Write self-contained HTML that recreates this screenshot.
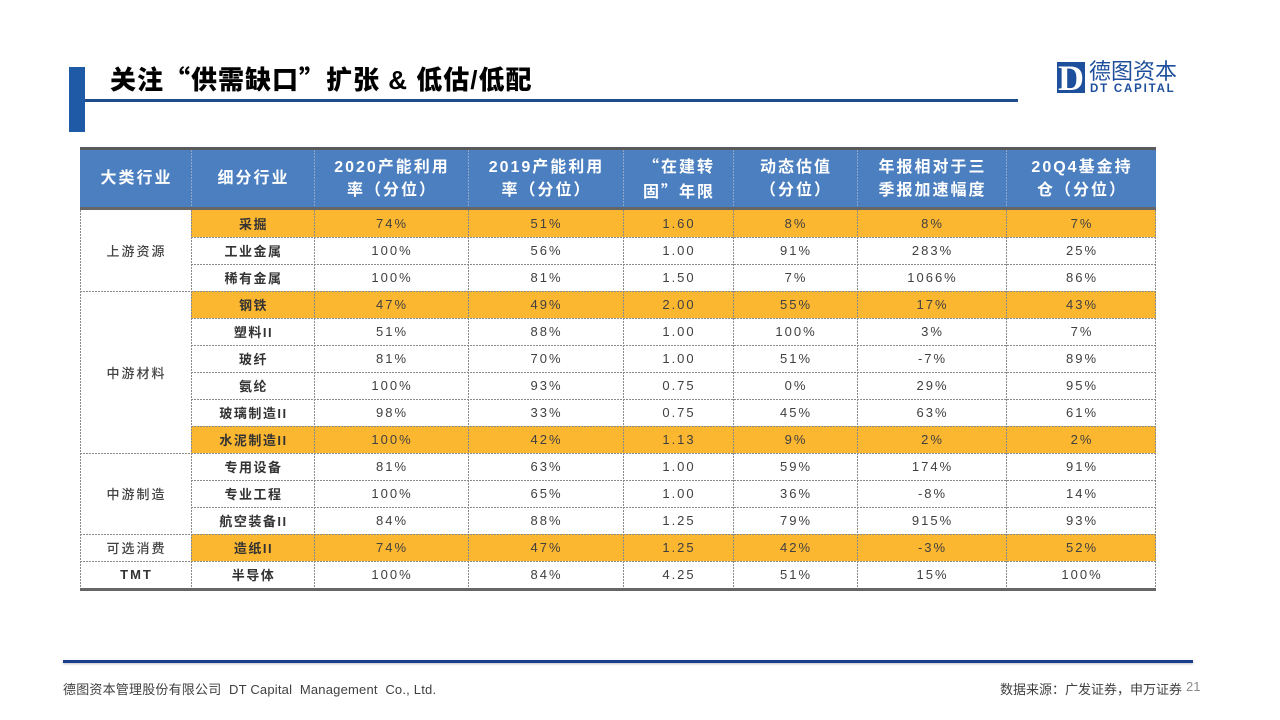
<!DOCTYPE html>
<html><head><meta charset="utf-8">
<style>
*{margin:0;padding:0;box-sizing:border-box;}
body{width:1280px;height:720px;background:#fff;position:relative;overflow:hidden;font-family:"Liberation Sans","Noto Sans CJK SC",sans-serif;}
.abs{position:absolute;}
.q{font-family:"Noto Sans CJK SC",sans-serif;}
.hl{position:absolute;height:1px;background:repeating-linear-gradient(90deg,#8a8a8a 0 2px,transparent 2px 3px);}
.vl{position:absolute;width:1px;background:repeating-linear-gradient(180deg,#8a8a8a 0 2px,transparent 2px 3px);}
.vlh{position:absolute;width:1px;background:repeating-linear-gradient(180deg,#8fa6c8 0 2px,transparent 2px 3px);}
.row{position:absolute;left:191px;height:27px;display:flex;}
.row div{height:27px;display:flex;align-items:center;justify-content:center;font-size:13px;letter-spacing:2px;color:#404040;padding-left:2px;}
.row div:first-child{font-weight:bold;color:#333;letter-spacing:1.5px;}
.w1{width:123px}.w2{width:154px}.w3{width:155px}.w4{width:110px}.w5{width:124px}.w6{width:149px}.w7{width:150px}
.hdr{position:absolute;left:80px;top:150px;height:57px;display:flex;}
.hdr div{height:57px;display:flex;align-items:center;justify-content:center;text-align:center;color:#fff;font-weight:bold;font-size:16px;letter-spacing:2px;line-height:23px;padding-left:2px;}
.cat{position:absolute;left:80px;width:111px;display:flex;align-items:center;justify-content:center;font-size:13px;letter-spacing:2px;color:#444;font-weight:500;padding-left:2px;}
</style></head><body>

<!-- title -->
<div class="abs" style="left:69px;top:67px;width:16px;height:65px;background:#1f5aa6;"></div>
<div class="abs" style="left:85px;top:99px;width:933px;height:3px;background:#1f4e8f;"></div>
<div class="abs" style="left:110px;top:65px;font-size:26px;line-height:28px;font-weight:900;color:#000;letter-spacing:1px;white-space:nowrap;">关注<span class="q">“</span>供需缺口<span class="q">”</span>扩张 &amp; 低估/低配</div>

<!-- logo -->
<div class="abs" style="left:1057px;top:62px;width:28px;height:31px;background:#1d4f9c;color:#fff;font-family:'Liberation Serif',serif;font-weight:bold;font-size:36px;line-height:33px;text-align:center;">D</div>
<div class="abs" style="left:1089px;top:59px;font-size:22px;line-height:26px;color:#1d4f9c;white-space:nowrap;">德图资本</div>
<div class="abs" style="left:1090px;top:83px;font-size:11.5px;line-height:12px;font-weight:bold;color:#1d4f9c;letter-spacing:1.8px;white-space:nowrap;">DT CAPITAL</div>

<!-- table backgrounds -->
<div class="abs" style="left:80px;top:147px;width:1076px;height:3px;background:#5a5a5a;"></div>
<div class="abs" style="left:80px;top:150px;width:1076px;height:57px;background:#4b7fc0;"></div>
<div class="abs" style="left:80px;top:207px;width:1076px;height:3px;background:#666;"></div>
<div class="abs" style="left:191px;top:210px;width:965px;height:27px;background:#fcb731;"></div>
<div class="abs" style="left:191px;top:291px;width:965px;height:27px;background:#fcb731;"></div>
<div class="abs" style="left:191px;top:426px;width:965px;height:27px;background:#fcb731;"></div>
<div class="abs" style="left:191px;top:534px;width:965px;height:27px;background:#fcb731;"></div>
<div class="abs" style="left:80px;top:588px;width:1076px;height:3px;background:#666;"></div>

<!-- horizontal dashed lines -->
<div class="hl" style="left:191px;top:237px;width:965px;"></div>
<div class="hl" style="left:191px;top:264px;width:965px;"></div>
<div class="hl" style="left:80px;top:291px;width:1076px;"></div>
<div class="hl" style="left:191px;top:318px;width:965px;"></div>
<div class="hl" style="left:191px;top:345px;width:965px;"></div>
<div class="hl" style="left:191px;top:372px;width:965px;"></div>
<div class="hl" style="left:191px;top:399px;width:965px;"></div>
<div class="hl" style="left:191px;top:426px;width:965px;"></div>
<div class="hl" style="left:80px;top:453px;width:1076px;"></div>
<div class="hl" style="left:191px;top:480px;width:965px;"></div>
<div class="hl" style="left:191px;top:507px;width:965px;"></div>
<div class="hl" style="left:80px;top:534px;width:1076px;"></div>
<div class="hl" style="left:80px;top:561px;width:1076px;"></div>

<!-- vertical dashed lines: body -->
<div class="vl" style="left:80px;top:210px;height:378px;"></div>
<div class="vl" style="left:191px;top:210px;height:378px;"></div>
<div class="vl" style="left:314px;top:210px;height:378px;"></div>
<div class="vl" style="left:468px;top:210px;height:378px;"></div>
<div class="vl" style="left:623px;top:210px;height:378px;"></div>
<div class="vl" style="left:733px;top:210px;height:378px;"></div>
<div class="vl" style="left:857px;top:210px;height:378px;"></div>
<div class="vl" style="left:1006px;top:210px;height:378px;"></div>
<div class="vl" style="left:1155px;top:210px;height:378px;"></div>
<!-- vertical dashed lines: header -->
<div class="vlh" style="left:191px;top:150px;height:57px;"></div>
<div class="vlh" style="left:314px;top:150px;height:57px;"></div>
<div class="vlh" style="left:468px;top:150px;height:57px;"></div>
<div class="vlh" style="left:623px;top:150px;height:57px;"></div>
<div class="vlh" style="left:733px;top:150px;height:57px;"></div>
<div class="vlh" style="left:857px;top:150px;height:57px;"></div>
<div class="vlh" style="left:1006px;top:150px;height:57px;"></div>

<!-- header text -->
<div class="hdr">
  <div style="width:111px">大类行业</div>
  <div style="width:123px">细分行业</div>
  <div style="width:154px">2020产能利用<br>率（分位）</div>
  <div style="width:155px">2019产能利用<br>率（分位）</div>
  <div style="width:110px"><span><span class="q">“</span>在建转<br>固<span class="q">”</span>年限</span></div>
  <div style="width:124px">动态估值<br>（分位）</div>
  <div style="width:149px">年报相对于三<br>季报加速幅度</div>
  <div style="width:150px">20Q4基金持<br>仓（分位）</div>
</div>

<!-- category cells -->
<div class="cat" style="top:210px;height:81px;">上游资源</div>
<div class="cat" style="top:291px;height:162px;">中游材料</div>
<div class="cat" style="top:453px;height:81px;">中游制造</div>
<div class="cat" style="top:534px;height:27px;">可选消费</div>
<div class="cat" style="top:561px;height:27px;font-weight:bold;color:#333;">TMT</div>

<!-- data rows -->
<div class="row" style="top:210px"><div class="w1">采掘</div><div class="w2">74%</div><div class="w3">51%</div><div class="w4">1.60</div><div class="w5">8%</div><div class="w6">8%</div><div class="w7">7%</div></div>
<div class="row" style="top:237px"><div class="w1">工业金属</div><div class="w2">100%</div><div class="w3">56%</div><div class="w4">1.00</div><div class="w5">91%</div><div class="w6">283%</div><div class="w7">25%</div></div>
<div class="row" style="top:264px"><div class="w1">稀有金属</div><div class="w2">100%</div><div class="w3">81%</div><div class="w4">1.50</div><div class="w5">7%</div><div class="w6">1066%</div><div class="w7">86%</div></div>
<div class="row" style="top:291px"><div class="w1">钢铁</div><div class="w2">47%</div><div class="w3">49%</div><div class="w4">2.00</div><div class="w5">55%</div><div class="w6">17%</div><div class="w7">43%</div></div>
<div class="row" style="top:318px"><div class="w1">塑料II</div><div class="w2">51%</div><div class="w3">88%</div><div class="w4">1.00</div><div class="w5">100%</div><div class="w6">3%</div><div class="w7">7%</div></div>
<div class="row" style="top:345px"><div class="w1">玻纤</div><div class="w2">81%</div><div class="w3">70%</div><div class="w4">1.00</div><div class="w5">51%</div><div class="w6">-7%</div><div class="w7">89%</div></div>
<div class="row" style="top:372px"><div class="w1">氨纶</div><div class="w2">100%</div><div class="w3">93%</div><div class="w4">0.75</div><div class="w5">0%</div><div class="w6">29%</div><div class="w7">95%</div></div>
<div class="row" style="top:399px"><div class="w1">玻璃制造II</div><div class="w2">98%</div><div class="w3">33%</div><div class="w4">0.75</div><div class="w5">45%</div><div class="w6">63%</div><div class="w7">61%</div></div>
<div class="row" style="top:426px"><div class="w1">水泥制造II</div><div class="w2">100%</div><div class="w3">42%</div><div class="w4">1.13</div><div class="w5">9%</div><div class="w6">2%</div><div class="w7">2%</div></div>
<div class="row" style="top:453px"><div class="w1">专用设备</div><div class="w2">81%</div><div class="w3">63%</div><div class="w4">1.00</div><div class="w5">59%</div><div class="w6">174%</div><div class="w7">91%</div></div>
<div class="row" style="top:480px"><div class="w1">专业工程</div><div class="w2">100%</div><div class="w3">65%</div><div class="w4">1.00</div><div class="w5">36%</div><div class="w6">-8%</div><div class="w7">14%</div></div>
<div class="row" style="top:507px"><div class="w1">航空装备II</div><div class="w2">84%</div><div class="w3">88%</div><div class="w4">1.25</div><div class="w5">79%</div><div class="w6">915%</div><div class="w7">93%</div></div>
<div class="row" style="top:534px"><div class="w1">造纸II</div><div class="w2">74%</div><div class="w3">47%</div><div class="w4">1.25</div><div class="w5">42%</div><div class="w6">-3%</div><div class="w7">52%</div></div>
<div class="row" style="top:561px"><div class="w1">半导体</div><div class="w2">100%</div><div class="w3">84%</div><div class="w4">4.25</div><div class="w5">51%</div><div class="w6">15%</div><div class="w7">100%</div></div>

<!-- footer -->
<div class="abs" style="left:63px;top:660px;width:1130px;height:3px;background:#1a3e8c;box-shadow:0 1px 2px rgba(0,0,0,0.25);"></div>
<div class="abs" style="left:63px;top:682px;font-size:13px;line-height:16px;color:#404040;letter-spacing:0.2px;white-space:nowrap;">德图资本管理股份有限公司&nbsp; DT Capital&nbsp; Management&nbsp; Co., Ltd.</div>
<div class="abs" style="left:1000px;top:682px;font-size:13px;line-height:16px;color:#404040;white-space:nowrap;">数据来源：广发证券，申万证券</div>
<div class="abs" style="left:1186px;top:679px;font-size:13px;line-height:16px;color:#8c8c8c;white-space:nowrap;">21</div>

</body></html>
